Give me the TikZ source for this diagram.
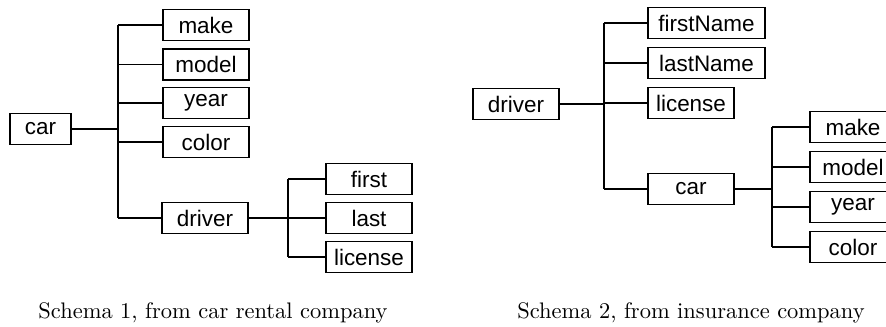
\documentclass[tikz,border=0pt]{standalone}
\usepackage{fontspec}
\newfontfamily\boxfont{Liberation Sans}
\begin{document}
\begin{tikzpicture}[x=0.445pt, y=-0.445pt, line width=0.7pt,
    every node/.style={draw, rectangle, inner sep=0pt, minimum height=13.8pt, minimum width=38.3pt, font=\boxfont\fontsize{10}{12}\selectfont},
    caption/.style={draw=none, minimum size=0pt, font=\rmfamily\normalsize}]
    \useasboundingbox (0,0) rectangle (886,326);
    % schema 1
    \node[minimum width=27.1pt] (car) at (40.5,129) {car};
    \node (make) at (206,25) {make};
    \node (model) at (206,64.5) {model};
    \node (year) at (206,103) {year};
    \node (color) at (206,142) {color};
    \node (driver) at (205,218) {driver};
    \node (first) at (369,179) {first};
    \node (last) at (369,218) {last};
    \node (license) at (369,257) {license};
    \coordinate (j1) at (118,0);
    \coordinate (j2) at (288,0);
    \draw (car.east) -- (car.east -| j1);
    \draw (make.west -| j1) -- (driver.west -| j1);
    \foreach \n in {make,model,year,color,driver}
        \draw (\n.west) -- (\n.west -| j1);
    \draw (driver.east) -- (driver.east -| j2);
    \draw (first.west -| j2) -- (license.west -| j2);
    \foreach \n in {first,last,license}
        \draw (\n.west) -- (\n.west -| j2);
    \node[caption] (cap1) at (213,313) {Schema 1, from car rental company};

    % schema 2
    \node (driver2) at (516,104) {driver};
    \node[minimum width=52.1pt] (firstName) at (706.5,23) {firstName};
    \node[minimum width=52.1pt] (lastName) at (706.5,63) {lastName};
    \node (license2) at (691,103) {license};
    \node (car2) at (691,189) {car};
    \node (make2) at (853,127) {make};
    \node (model2) at (853,167) {model};
    \node (year2) at (853,207) {year};
    \node (color2) at (853,247) {color};
    \coordinate (j3) at (604,0);
    \coordinate (j4) at (772,0);
    \draw (driver2.east) -- (driver2.east -| j3);
    \draw (firstName.west -| j3) -- (car2.west -| j3);
    \foreach \n in {firstName,lastName,license2,car2}
        \draw (\n.west) -- (\n.west -| j3);
    \draw (car2.east) -- (car2.east -| j4);
    \draw (make2.west -| j4) -- (color2.west -| j4);
    \foreach \n in {make2,model2,year2,color2}
        \draw (\n.west) -- (\n.west -| j4);
    \node[caption] (cap2) at (691,313) {Schema 2, from insurance company};
\end{tikzpicture}
\end{document}
